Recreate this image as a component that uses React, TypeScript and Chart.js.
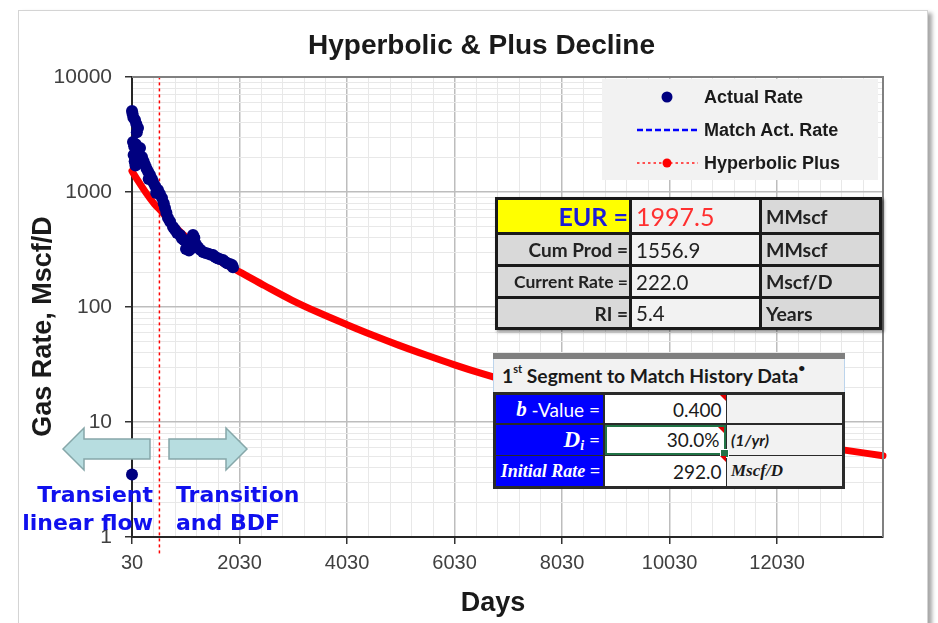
import React, { useEffect, useRef } from 'react';
import { Chart, registerables } from 'chart.js';

Chart.register(...registerables);

// ---------- data ----------
const actualDays = [30, 40, 55, 86, 110, 142, 120, 49, 70, 100, 60, 80, 95, 179, 150, 216, 190, 245, 272, 300, 330, 365, 340, 400, 421, 460, 514, 480, 550, 588, 620, 644, 670, 700, 740, 793, 830, 870, 923, 960, 1000, 1053, 1035, 1090, 1128, 1165, 1190, 1146, 1220, 1260, 1300, 1351, 1400, 1450, 1500, 1537, 1580, 1620, 1660, 1723, 1760, 1800, 1850, 1891, 1909, 30];
const actualRates = [5060, 4800, 4450, 4230, 3900, 3600, 3300, 2720, 2500, 2600, 2100, 1850, 1700, 2414, 2200, 2014, 1900, 1850, 1717, 1600, 1500, 1406, 1300, 1300, 1222, 1130, 1040, 980, 960, 887, 800, 726, 660, 595, 550, 496, 470, 440, 423, 395, 380, 367, 320, 310, 383, 423, 400, 326, 350, 330, 315, 301, 295, 290, 285, 283, 272, 266, 262, 256, 247, 240, 236, 232, 222, 3.5];

const curveDays = [30, 150, 300, 450, 551, 700, 850, 1000, 1200, 1400, 1600, 1800, 2030, 2500, 3000, 3500, 4030, 4500, 5000, 5500, 6030, 6500, 7000, 8000, 9000, 10000, 11000, 12000, 13000, 14000];
const curveRates = [1520, 1236, 970, 783, 698, 580, 490, 420, 350, 300, 262, 230, 202, 153, 115, 89.5, 70.2, 57.1, 46.4, 38.2, 31.4, 26.7, 22.8, 17.1, 13.2, 10.5, 8.55, 7.08, 5.96, 5.09];

const transitionDay = 540;

const xMin = 30;
const xMax = 14000;
const xMajorTicks = [30, 2030, 4030, 6030, 8030, 10030, 12030];
const xMinorStep = 400;
const yMajorTicks = [1, 10, 100, 1000, 10000];
const yMinorMultipliers = [2, 3, 4, 5, 6, 7, 8, 9];

const eurLabels = ['EUR =', 'Cum Prod =', 'Current Rate =', 'RI ='];
const eurValues = ['1997.5', '1556.9', '222.0', '5.4'];
const eurUnits = ['MMscf', 'MMscf', 'Mscf/D', 'Years'];

const segValues = ['0.400', '30.0%', '292.0'];

// ---------- helpers ----------
const xTicks: number[] = [];
for (let v = xMin; v < xMax; v += xMinorStep) xTicks.push(v);
const yTicks: number[] = [];
for (let i = 0; i < yMajorTicks.length - 1; i++) {
  yTicks.push(yMajorTicks[i]);
  yMinorMultipliers.forEach((m) => yTicks.push(yMajorTicks[i] * m));
}
yTicks.push(yMajorTicks[yMajorTicks.length - 1]);

const isMajorX = (v: number) => xMajorTicks.includes(v);
const isMajorY = (v: number) => yMajorTicks.includes(v);

const framePlugin = {
  id: 'plotFrame',
  afterDraw(chart: any) {
    const { ctx, chartArea: a } = chart;
    ctx.save();
    ctx.strokeStyle = '#808080';
    ctx.lineWidth = 2;
    ctx.beginPath();
    ctx.moveTo(a.left, a.top);
    ctx.lineTo(a.right, a.top);
    ctx.lineTo(a.right, a.bottom);
    ctx.stroke();
    ctx.restore();
  },
};

const TICK_FONT = 'Liberation Sans, Arial, sans-serif';
const TABLE_FONT = 'Lato, Calibri, sans-serif';
const SERIF = 'Liberation Serif, Times New Roman, serif';

export default function App() {
  const canvasRef = useRef<HTMLCanvasElement>(null);

  useEffect(() => {
    const canvas = canvasRef.current;
    if (!canvas) return;
    const chart = new Chart(canvas, {
      type: 'line',
      data: {
        datasets: [
          {
            label: 'Actual Rate',
            data: actualDays.map((d, i) => ({ x: d, y: actualRates[i] })),
            showLine: false,
            backgroundColor: '#000080',
            borderColor: '#000080',
            pointRadius: 6,
            pointBorderWidth: 0,
            pointHoverRadius: 6,
            order: 0,
            clip: false,
          } as any,
          {
            label: 'Match Act. Rate',
            data: [],
            borderColor: '#0000ff',
            borderDash: [6, 3],
            borderWidth: 2,
            pointRadius: 0,
            order: 1,
          },
          {
            label: 'Hyperbolic Plus',
            data: curveDays.map((d, i) => ({ x: d, y: curveRates[i] })),
            borderColor: '#ff0000',
            backgroundColor: '#ff0000',
            borderWidth: 7,
            pointRadius: 0,
            cubicInterpolationMode: 'monotone',
            borderCapStyle: 'round',
            borderJoinStyle: 'round',
            order: 2,
            clip: false,
          } as any,
          {
            label: 'Transition',
            data: [
              { x: transitionDay, y: 0.72 },
              { x: transitionDay, y: 10000 },
            ],
            borderColor: '#ff0000',
            borderWidth: 1.5,
            borderDash: [3, 3],
            pointRadius: 0,
            order: 3,
            clip: false,
          } as any,
        ],
      },
      options: {
        animation: false,
        responsive: false,
        devicePixelRatio: 1,
        layout: { padding: { top: 77, right: 55, bottom: 0, left: 0 } },
        plugins: {
          legend: { display: false },
          title: { display: false },
          tooltip: { enabled: false },
        },
        scales: {
          x: {
            type: 'linear',
            min: xMin,
            max: xMax,
            afterBuildTicks: (scale: any) => {
              scale.ticks = xTicks.map((v) => ({ value: v }));
            },
            afterFit: (scale: any) => {
              scale.height = 86;
            },
            ticks: {
              autoSkip: false,
              maxRotation: 0,
              minRotation: 0,
              padding: 7,
              color: '#404040',
              font: { family: TICK_FONT, size: 20 },
              callback: (v: any) => (isMajorX(Number(v)) ? String(v) : ''),
            },
            grid: {
              color: (c: any) => (isMajorX(c.tick?.value) ? '#bdbdbd' : '#e8e8e8'),
              lineWidth: (c: any) => (isMajorX(c.tick?.value) ? 1.5 : 1),
              tickColor: (c: any) => (isMajorX(c.tick?.value) ? '#333333' : 'rgba(0,0,0,0)'),
              tickLength: 7,
              tickWidth: 1.5,
            },
            border: { color: '#262626', width: 2 },
          },
          y: {
            type: 'logarithmic',
            min: 1,
            max: 10000,
            afterBuildTicks: (scale: any) => {
              scale.ticks = yTicks.map((v) => ({ value: v }));
            },
            afterFit: (scale: any) => {
              scale.width = 132;
            },
            ticks: {
              autoSkip: false,
              padding: 13,
              color: '#404040',
              font: { family: TICK_FONT, size: 21 },
              callback: (v: any) => (isMajorY(Number(v)) ? String(v) : ''),
            },
            grid: {
              color: (c: any) => (isMajorY(c.tick?.value) ? '#bdbdbd' : '#e8e8e8'),
              lineWidth: (c: any) => (isMajorY(c.tick?.value) ? 1.5 : 1),
              tickColor: (c: any) => (isMajorY(c.tick?.value) ? '#333333' : 'rgba(0,0,0,0)'),
              tickLength: 7,
              tickWidth: 1.5,
            },
            border: { color: '#262626', width: 2 },
          },
        },
      } as any,
      plugins: [framePlugin],
    });
    return () => chart.destroy();
  }, []);

  const abs = (s: React.CSSProperties): React.CSSProperties => ({ position: 'absolute', ...s });

  const eurCell = (bg: string, align: 'left' | 'right', extra: React.CSSProperties = {}): React.CSSProperties => ({
    background: bg,
    display: 'flex',
    alignItems: 'center',
    justifyContent: align === 'right' ? 'flex-end' : 'flex-start',
    paddingLeft: align === 'left' ? 4 : 0,
    paddingRight: align === 'right' ? 1 : 0,
    fontFamily: TABLE_FONT,
    color: '#222222',
    whiteSpace: 'nowrap',
    overflow: 'hidden',
    ...extra,
  });

  const redTri: React.CSSProperties = {
    position: 'absolute',
    right: 0,
    top: 0,
    width: 0,
    height: 0,
    borderTop: '6px solid #e00000',
    borderLeft: '6px solid transparent',
  };

  const segLabelCell: React.CSSProperties = {
    background: '#0000ff',
    color: '#ffffff',
    display: 'flex',
    alignItems: 'center',
    justifyContent: 'flex-end',
    paddingRight: 3,
    whiteSpace: 'nowrap',
  };
  const segValueCell: React.CSSProperties = {
    position: 'relative',
    background: '#ffffff',
    display: 'flex',
    alignItems: 'center',
    justifyContent: 'flex-end',
    paddingRight: 4,
    fontFamily: TABLE_FONT,
    fontSize: 19,
    color: '#1a1a1a',
    boxSizing: 'border-box',
  };
  const segUnitCell: React.CSSProperties = {
    background: '#f2f2f2',
    display: 'flex',
    alignItems: 'center',
    paddingLeft: 4,
    whiteSpace: 'nowrap',
    color: '#1a1a1a',
  };

  const flowFont: React.CSSProperties = {
    fontFamily: 'DejaVu Sans, Verdana, sans-serif',
    fontWeight: 'bold',
    fontSize: 22,
    lineHeight: '28px',
    color: '#1010ee',
    whiteSpace: 'nowrap',
  };

  return (
    <div style={{ position: 'fixed', left: 0, top: 0, width: 938, height: 623, background: '#ffffff', overflow: 'hidden' }}>
      {/* outer chart frame */}
      <div
        style={abs({
          left: 18,
          top: 10,
          width: 908,
          height: 640,
          border: '1px solid #d4d4d4',
          boxShadow: '4px 3px 4px rgba(0,0,0,0.35)',
          background: '#ffffff',
        })}
      />
      <canvas ref={canvasRef} width={938} height={623} style={abs({ left: 0, top: 0, width: 938, height: 623, display: 'block' })} />

      {/* title and axis titles */}
      <div style={abs({ left: 231.5, width: 500, top: 31, textAlign: 'center', fontFamily: TICK_FONT, fontWeight: 'bold', fontSize: 28, lineHeight: '28px', color: '#1a1a1a' })}>
        Hyperbolic &amp; Plus Decline
      </div>
      <div style={abs({ left: 393, width: 200, top: 589, textAlign: 'center', fontFamily: TICK_FONT, fontWeight: 'bold', fontSize: 27, lineHeight: '27px', color: '#1a1a1a' })}>
        Days
      </div>
      <div
        style={abs({
          left: 42 - 150,
          top: 326 - 13.5,
          width: 300,
          height: 27,
          textAlign: 'center',
          fontFamily: TICK_FONT,
          fontWeight: 'bold',
          fontSize: 27,
          lineHeight: '27px',
          color: '#1a1a1a',
          transform: 'rotate(-90deg)',
          whiteSpace: 'nowrap',
        })}
      >
        Gas Rate, Mscf/D
      </div>

      {/* arrows */}
      <svg width={938} height={623} style={abs({ left: 0, top: 0, pointerEvents: 'none' })}>
        <polygon points="63,449 84,428 84,439 150,439 150,459 84,459 84,470" fill="#b7dde0" stroke="#86a7a9" strokeWidth={1.5} />
        <polygon points="169,439 226,439 226,428 247,449 226,470 226,459 169,459" fill="#b7dde0" stroke="#86a7a9" strokeWidth={1.5} />
      </svg>

      {/* flow regime labels */}
      <div style={abs({ left: 0, width: 153, top: 481, textAlign: 'right', ...flowFont })}>
        Transient
        <br />
        linear flow
      </div>
      <div style={abs({ left: 176, top: 481, textAlign: 'left', ...flowFont })}>
        Transition
        <br />
        and BDF
      </div>

      {/* legend */}
      <div style={abs({ left: 602, top: 79, width: 276, height: 101, background: '#f2f2f2' })}>
        <svg width={276} height={101} style={abs({ left: 0, top: 0 })}>
          <circle cx={65} cy={18} r={5.5} fill="#000080" />
          <line x1={35} x2={96} y1={51} y2={51} stroke="#0000ff" strokeWidth={2.5} strokeDasharray="6 3" />
          <line x1={35} x2={96} y1={84} y2={84} stroke="#ff5050" strokeWidth={2} strokeDasharray="2.5 3" />
          <circle cx={65} cy={84} r={4.5} fill="#ff0000" />
        </svg>
        {['Actual Rate', 'Match Act. Rate', 'Hyperbolic Plus'].map((t, i) => (
          <div key={t} style={abs({ left: 102, top: 18 + i * 33 - 11, lineHeight: '22px', fontFamily: TICK_FONT, fontWeight: 'bold', fontSize: 18, color: '#1a1a1a', whiteSpace: 'nowrap' })}>
            {t}
          </div>
        ))}
      </div>

      {/* EUR table */}
      <div
        style={abs({
          left: 495,
          top: 197,
          width: 387,
          height: 133,
          boxSizing: 'border-box',
          padding: 3,
          background: '#1a1a1a',
          display: 'grid',
          gridTemplateColumns: '131px 127px 117px',
          gridTemplateRows: '32px 29px 29px 28px',
          gap: 3,
          boxShadow: '2px 2px 3px rgba(0,0,0,0.45)',
        })}
      >
        {eurLabels.map((lab, i) => (
          <React.Fragment key={lab}>
            <div
              style={eurCell(i === 0 ? '#ffff00' : '#d9d9d9', 'right', {
                fontWeight: 'bold',
                fontSize: i === 0 ? 25 : i === 2 ? 17.5 : 19,
                color: i === 0 ? '#1c1cd6' : '#222222',
              })}
            >
              {lab}
            </div>
            <div
              style={eurCell('#f2f2f2', 'left', {
                fontSize: i === 0 ? 25 : 20.5,
                color: i === 0 ? '#ff3030' : '#222222',
              })}
            >
              {eurValues[i]}
            </div>
            <div style={eurCell('#d9d9d9', 'left', { fontWeight: 'bold', fontSize: 19.5 })}>{eurUnits[i]}</div>
          </React.Fragment>
        ))}
      </div>

      {/* 1st segment table */}
      <div style={abs({ left: 493, top: 353, width: 352, height: 136 })}>
        <div style={abs({ left: 0, top: 0, width: 352, height: 6, background: '#7f7f7f' })} />
        <div
          style={abs({
            left: 0,
            top: 6,
            width: 352,
            height: 33,
            boxSizing: 'border-box',
            background: '#f2f2f2',
            borderLeft: '1.5px solid #bcd4ec',
            borderRight: '1.5px solid #bcd4ec',
          })}
        >
          <div style={abs({ left: 8, top: 5, fontFamily: TABLE_FONT, fontWeight: 'bold', fontSize: 19.3, lineHeight: '23px', color: '#1a1a1a', whiteSpace: 'nowrap' })}>
            1<sup style={{ fontSize: 11, verticalAlign: 'top', lineHeight: '10px' }}>st</sup> Segment to Match History Data
            <sup style={{ fontSize: 12, verticalAlign: 'top', lineHeight: '8px' }}>•</sup>
          </div>
        </div>
        <div
          style={abs({
            left: 0,
            top: 39,
            width: 352,
            height: 97,
            boxSizing: 'border-box',
            padding: 3,
            background: '#2a2a2a',
            display: 'grid',
            gridTemplateColumns: '107px 121px 115px',
            gridTemplateRows: '28px 30px 30px',
            gap: 1.5,
          })}
        >
          {/* row 1 */}
          <div style={segLabelCell}>
            <span style={{ fontFamily: SERIF, fontStyle: 'italic', fontWeight: 'bold', fontSize: 21 }}>b</span>
            <span style={{ fontFamily: TABLE_FONT, fontSize: 19 }}>&nbsp;-Value =</span>
          </div>
          <div style={segValueCell}>
            {segValues[0]}
            <div style={redTri} />
          </div>
          <div style={segUnitCell} />
          {/* row 2 */}
          <div style={segLabelCell}>
            <span style={{ fontFamily: SERIF, fontStyle: 'italic', fontWeight: 'bold', fontSize: 23 }}>D</span>
            <span style={{ fontFamily: SERIF, fontStyle: 'italic', fontWeight: 'bold', fontSize: 14, position: 'relative', top: 6 }}>i</span>
            <span style={{ fontFamily: TABLE_FONT, fontSize: 19 }}>&nbsp;=</span>
          </div>
          <div style={{ ...segValueCell, border: '2px solid #217346' }}>
            {segValues[1]}
            <div style={redTri} />
            <div style={abs({ right: -5, bottom: -5, width: 7, height: 7, background: '#217346', border: '1px solid #ffffff' })} />
          </div>
          <div style={{ ...segUnitCell, fontFamily: TABLE_FONT, fontStyle: 'italic', fontWeight: 'bold', fontSize: 16 }}>(1/yr)</div>
          {/* row 3 */}
          <div style={{ ...segLabelCell, fontFamily: SERIF, fontStyle: 'italic', fontWeight: 'bold', fontSize: 18 }}>Initial Rate =</div>
          <div style={segValueCell}>
            {segValues[2]}
            <div style={redTri} />
          </div>
          <div style={{ ...segUnitCell, fontFamily: SERIF, fontStyle: 'italic', fontWeight: 'bold', fontSize: 17 }}>Mscf/D</div>
        </div>
      </div>
    </div>
  );
}
